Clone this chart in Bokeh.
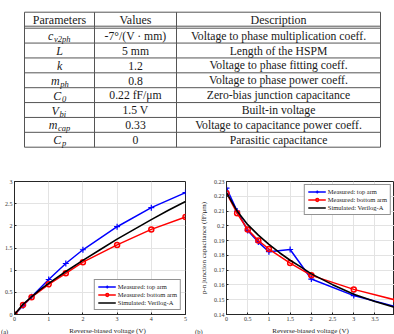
from bokeh.plotting import figure
from bokeh.models import Range1d, FixedTicker, CustomJSTickFormatter
from bokeh.layouts import column, row
from bokeh.core.properties import value
from bokeh.embed import file_html
from bokeh.resources import INLINE

# ---------------- data ----------------
headers = ["Parameters", "Values", "Description"]
param_main = ["c", "L", "k", "m", "C", "V", "m", "C"]
param_sub = ["v2ph", "", "", "ph", "0", "bi", "cap", "p"]
param_values = ["-7°/(V · mm)", "5 mm", "1.2", "0.8", "0.22 fF/μm", "1.5 V", "0.33", "0"]
param_desc = [
    "Voltage to phase multiplication coeff.",
    "Length of the HSPM",
    "Voltage to phase fitting coeff.",
    "Voltage to phase power coeff.",
    "Zero-bias junction capacitance",
    "Built-in voltage",
    "Voltage to capacitance power coeff.",
    "Parasitic capacitance",
]

series_names = ["Measured: top arm", "Measured: bottom arm", "Simulated: Verilog-A"]
panel_tags = ["(a)", "(b)"]
x_title = "Reverse-biased voltage (V)"
y_title_b = "p-n junction capacitance (fF/μm)"

voltage_a = [0, 0.25, 0.5, 1, 1.5, 2, 3, 4, 5]
phase_top = [0, 0.20, 0.40, 0.79, 1.15, 1.46, 1.98, 2.41, 2.75]
phase_bottom = [0, 0.215, 0.39, 0.68, 0.93, 1.18, 1.57, 1.92, 2.20]
voltage_sim_a = [0, 0.25, 0.5, 0.75, 1, 1.5, 2, 2.5, 3, 3.5, 4, 4.5, 5]
phase_sim = [0, 0.23, 0.40, 0.56, 0.70, 0.97, 1.22, 1.46, 1.70, 1.92, 2.14, 2.35, 2.55]

voltage_b = [0, 0.25, 0.5, 0.75, 1, 1.5, 2, 3, 4]
cap_top = [0.2255, 0.2100, 0.1968, 0.1890, 0.1825, 0.1840, 0.1640, 0.1528, 0.1452]
cap_bottom = [0.2221, 0.2085, 0.1975, 0.1900, 0.1843, 0.1748, 0.1665, 0.1570, 0.1497]
voltage_sim_b = [0, 0.25, 0.5, 0.75, 1, 1.25, 1.5, 1.75, 2, 2.5, 3, 3.5, 4]
cap_sim = [0.2225, 0.2100, 0.2008, 0.1937, 0.1875, 0.1818, 0.1767, 0.1722, 0.1675, 0.1602, 0.1537, 0.1488, 0.1445]

# ---------------- table ----------------
SERIF = "Liberation Serif"
TW, TH = 394, 170
t = figure(width=TW, height=TH, x_range=Range1d(0, TW), y_range=Range1d(TH, 0),
           toolbar_location=None, output_backend="svg", x_axis_type=None, y_axis_type=None,
           min_border=0)
t.grid.visible = False
t.outline_line_color = None

tab_left, tab_right = 24, 380
col_edges = [24, 94, 176, 380]
top_y = 11.7
head_y1, head_y2 = 25.7, 27.7
bot_y = 146.7
n = len(param_desc)
rh = (bot_y - head_y2) / n
row_lines = [head_y2 + i * rh for i in range(1, n)]
hl = [top_y, head_y1, head_y2] + row_lines + [bot_y]
line_col = "#555555"
t.segment(x0=[tab_left] * len(hl), x1=[tab_right] * len(hl), y0=hl, y1=hl,
          line_color=line_col, line_width=1)
t.segment(x0=col_edges, x1=col_edges, y0=[top_y] * 4, y1=[bot_y] * 4,
          line_color=line_col, line_width=1)

centers = [(col_edges[i] + col_edges[i + 1]) / 2 for i in range(3)]
fs = "11.7px"
txt_col = "#1a1a1a"
t.text(x=centers, y=[(top_y + head_y1) / 2 + 0.5] * 3, text=headers, text_font=value(SERIF),
       text_font_size="12px", text_align="center", text_baseline="middle", text_color=txt_col)
row_c = [head_y2 + (i + 0.5) * rh + 0.5 for i in range(n)]
t.text(x=[centers[1]] * n, y=row_c, text=param_values, text_font=value(SERIF),
       text_font_size=fs, text_align="center", text_baseline="middle", text_color=txt_col)
t.text(x=[centers[2]] * n, y=row_c, text=param_desc, text_font=value(SERIF),
       text_font_size=fs, text_align="center", text_baseline="middle", text_color=txt_col)

main_w = {"c": 5.5, "L": 7, "k": 5.5, "m": 9, "C": 8, "V": 7.5}
sub_cw = 4.4
splits = []
for m_, s_ in zip(param_main, param_sub):
    total = main_w[m_] + sub_cw * len(s_)
    splits.append(centers[0] - total / 2 + main_w[m_])
t.text(x=splits, y=row_c, text=param_main, text_font=value(SERIF), text_font_style="italic",
       text_font_size="12px", text_align="right", text_baseline="middle", text_color=txt_col)
t.text(x=[s + 0.6 for s in splits], y=[r + 3 for r in row_c], text=param_sub,
       text_font=value(SERIF), text_font_style="italic",
       text_font_size="8.5px", text_align="left", text_baseline="middle", text_color=txt_col)

# ---------------- plots ----------------
fmt = CustomJSTickFormatter(code="return Number(tick.toFixed(2)).toString();")
AX = "#262626"


def style(p, xt, yt, ylabel=None):
    p.outline_line_color = AX
    p.outline_line_width = 1
    p.xgrid.grid_line_color = "#e3e3e3"
    p.ygrid.grid_line_color = "#e3e3e3"
    p.xaxis.ticker = FixedTicker(ticks=xt)
    p.yaxis.ticker = FixedTicker(ticks=yt)
    for ax in (p.xaxis[0], p.yaxis[0]):
        ax.formatter = fmt
        ax.major_tick_in = 2
        ax.major_tick_out = 0
        ax.minor_tick_in = 0
        ax.minor_tick_out = 0
        ax.axis_line_color = AX
        ax.major_tick_line_color = AX
        ax.major_label_text_font = SERIF
        ax.major_label_text_font_size = "6px"
        ax.major_label_text_color = "#333333"
        ax.major_label_standoff = 2
        ax.axis_label_text_font = SERIF
        ax.axis_label_text_font_size = "7px"
        ax.axis_label_text_font_style = "normal"
        ax.axis_label_text_color = "#222222"
        ax.axis_label_standoff = 3
    if ylabel:
        p.yaxis.axis_label = ylabel


def style_legend(p, loc, margin):
    lg = p.legend[0]
    lg.location = loc
    lg.label_text_font = SERIF
    lg.label_text_font_size = "6.5px"
    lg.label_text_color = "#222222"
    lg.glyph_width = 18
    lg.glyph_height = 7
    lg.label_height = 7
    lg.label_standoff = 2
    lg.spacing = 1
    lg.padding = 3
    lg.margin = margin
    lg.border_line_color = AX
    lg.border_line_width = 1
    lg.background_fill_alpha = 1


BLUE, RED, BLACK = "#0000ff", "#ff0000", "#000000"
PH = 153

pa = figure(width=194, height=PH, x_range=Range1d(0, 5), y_range=Range1d(0, 3),
            toolbar_location=None, output_backend="svg",
            min_border_left=14, min_border_right=9, min_border_top=11, min_border_bottom=9)
style(pa, [0, 1, 2, 3, 4, 5], [0, 0.5, 1, 1.5, 2, 2.5, 3])
pa.line(voltage_a, phase_top, color=BLUE, line_width=1.5, legend_label=series_names[0])
pa.scatter(voltage_a, phase_top, marker="cross", size=6, line_color=BLUE, line_width=1.2,
           legend_label=series_names[0])
pa.line(voltage_a, phase_bottom, color=RED, line_width=1.5, legend_label=series_names[1])
pa.scatter(voltage_a, phase_bottom, marker="circle", size=5, line_color=RED, fill_color=None,
           line_width=1.5, legend_label=series_names[1])
pa.line(voltage_sim_a, phase_sim, color=BLACK, line_width=1.6, legend_label=series_names[2])
style_legend(pa, "bottom_right", 4)

pb = figure(width=200, height=PH, x_range=Range1d(0, 3.96), y_range=Range1d(0.14, 0.23),
            toolbar_location=None, output_backend="svg",
            min_border_left=32, min_border_right=0, min_border_top=11, min_border_bottom=9)
style(pb, [0, 0.5, 1, 1.5, 2, 2.5, 3, 3.5], [0.14 + 0.01 * i for i in range(10)], y_title_b)
pb.line(voltage_b, cap_top, color=BLUE, line_width=1.5, legend_label=series_names[0])
pb.scatter(voltage_b, cap_top, marker="cross", size=6, line_color=BLUE, line_width=1.2,
           legend_label=series_names[0])
pb.line(voltage_b, cap_bottom, color=RED, line_width=1.5, legend_label=series_names[1])
pb.scatter(voltage_b, cap_bottom, marker="circle", size=5, line_color=RED, fill_color=None,
           line_width=1.5, legend_label=series_names[1])
pb.line(voltage_sim_b, cap_sim, color=BLACK, line_width=1.6, legend_label=series_names[2])
style_legend(pb, "top_right", 3)

# ---------------- bottom strip: x titles and panel tags ----------------
SH = 334 - TH - PH
s = figure(width=TW, height=SH, x_range=Range1d(0, TW), y_range=Range1d(SH, 0),
           toolbar_location=None, output_backend="svg", x_axis_type=None, y_axis_type=None,
           min_border=0)
s.grid.visible = False
s.outline_line_color = None
s.text(x=[107, 310], y=[SH - 4.5] * 2, text=[x_title, x_title], text_font=value(SERIF),
       text_font_size="7px", text_align="center", text_baseline="middle", text_color="#222222")
s.text(x=[0.5, 194.5], y=[SH - 4.5] * 2, text=panel_tags, text_font=value(SERIF),
       text_font_size="6.5px", text_align="left", text_baseline="middle", text_color="#222222")

layout = column(t, row(pa, pb, spacing=0), s, spacing=0)
open("out.html", "w").write(file_html(layout, INLINE))
